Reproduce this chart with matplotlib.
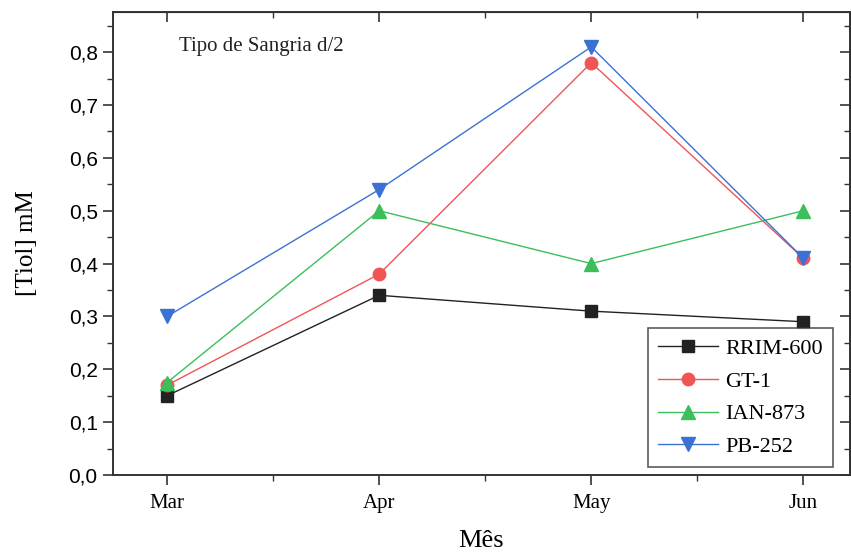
import matplotlib
matplotlib.use("Agg")
import matplotlib.pyplot as plt
from matplotlib.ticker import MultipleLocator, FixedLocator, FuncFormatter

months = ["Mar", "Apr", "May", "Jun"]
rrim_600 = [0.15, 0.34, 0.31, 0.29]
gt_1 = [0.17, 0.38, 0.78, 0.41]
ian_873 = [0.175, 0.50, 0.40, 0.50]
pb_252 = [0.30, 0.54, 0.81, 0.41]
y_ticks = [0.0, 0.1, 0.2, 0.3, 0.4, 0.5, 0.6, 0.7, 0.8]

serif = "Liberation Serif"
sans = "Liberation Sans"

fig = plt.figure(figsize=(8.51, 5.58), dpi=100)
ax = fig.add_axes([113/851, (558-475)/558, (850-113)/851, (475-12)/558])

x = list(range(len(months)))
series = [
    ("RRIM-600", rrim_600, "#222222", "s", 8),
    ("GT-1", gt_1, "#f05555", "o", 9),
    ("IAN-873", ian_873, "#3cbf5a", "^", 10),
    ("PB-252", pb_252, "#3a72d4", "v", 10),
]
for name, vals, col, mk, ms in series:
    ax.plot(x, vals, color=col, lw=1.0, marker=mk, ms=ms, mec=col, mfc=col, label=name)

ax.set_xlim(-0.255, 3.22)
ax.set_ylim(0, 0.876)
ax.xaxis.set_major_locator(FixedLocator(x))
ax.set_xticklabels(months, fontfamily=serif, fontsize=15)
ax.xaxis.set_minor_locator(FixedLocator([0.5, 1.5, 2.5]))
ax.yaxis.set_major_locator(FixedLocator(y_ticks))
ax.yaxis.set_minor_locator(MultipleLocator(0.05))
ax.yaxis.set_major_formatter(FuncFormatter(lambda v, p: f"{v:.1f}".replace(".", ",")))
for lab in ax.get_yticklabels():
    lab.set_fontfamily(sans)
    lab.set_fontsize(15)

ax.tick_params(axis="both", which="major", direction="out", length=7, width=1.2, color="#333333")
ax.tick_params(axis="both", which="minor", direction="out", length=4, width=1.0, color="#333333")
ax.tick_params(axis="x", which="major", pad=7)
ax.tick_params(axis="y", which="major", pad=4)
for s in ax.spines.values():
    s.set_linewidth(1.4)
    s.set_color("#333333")

ax2x = ax.secondary_xaxis("top")
ax2x.xaxis.set_major_locator(FixedLocator(x))
ax2x.xaxis.set_minor_locator(FixedLocator([0.5, 1.5, 2.5]))
ax2x.tick_params(which="major", direction="in", length=7, width=1.2, labeltop=False, color="#333333")
ax2x.tick_params(which="minor", direction="in", length=4, width=1.0, color="#333333")
ax2y = ax.secondary_yaxis("right")
ax2y.yaxis.set_major_locator(FixedLocator(y_ticks))
ax2y.yaxis.set_minor_locator(MultipleLocator(0.05))
ax2y.tick_params(which="major", direction="in", length=7, width=1.2, labelright=False, color="#333333")
ax2y.tick_params(which="minor", direction="in", length=4, width=1.0, color="#333333")

ax.set_xlabel("Mês", fontfamily=serif, fontsize=19, labelpad=12)
ax.set_ylabel("[Tiol] mM", fontfamily=serif, fontsize=18, labelpad=22)

ax.text(0.09, 0.925, "Tipo de Sangria d/2", transform=ax.transAxes,
        fontfamily=serif, fontsize=15, color="#222222", va="center")

leg = ax.legend(loc="lower right", bbox_to_anchor=(0.987, 0.0),
                prop={"family": serif, "size": 16}, frameon=True, fancybox=False,
                edgecolor="#333333", handlelength=2.7, borderpad=0.45, labelspacing=0.55,
                handletextpad=0.3, borderaxespad=0.35)
leg.get_frame().set_linewidth(1.2)

fig.savefig("out.png", dpi=100, facecolor="white")
